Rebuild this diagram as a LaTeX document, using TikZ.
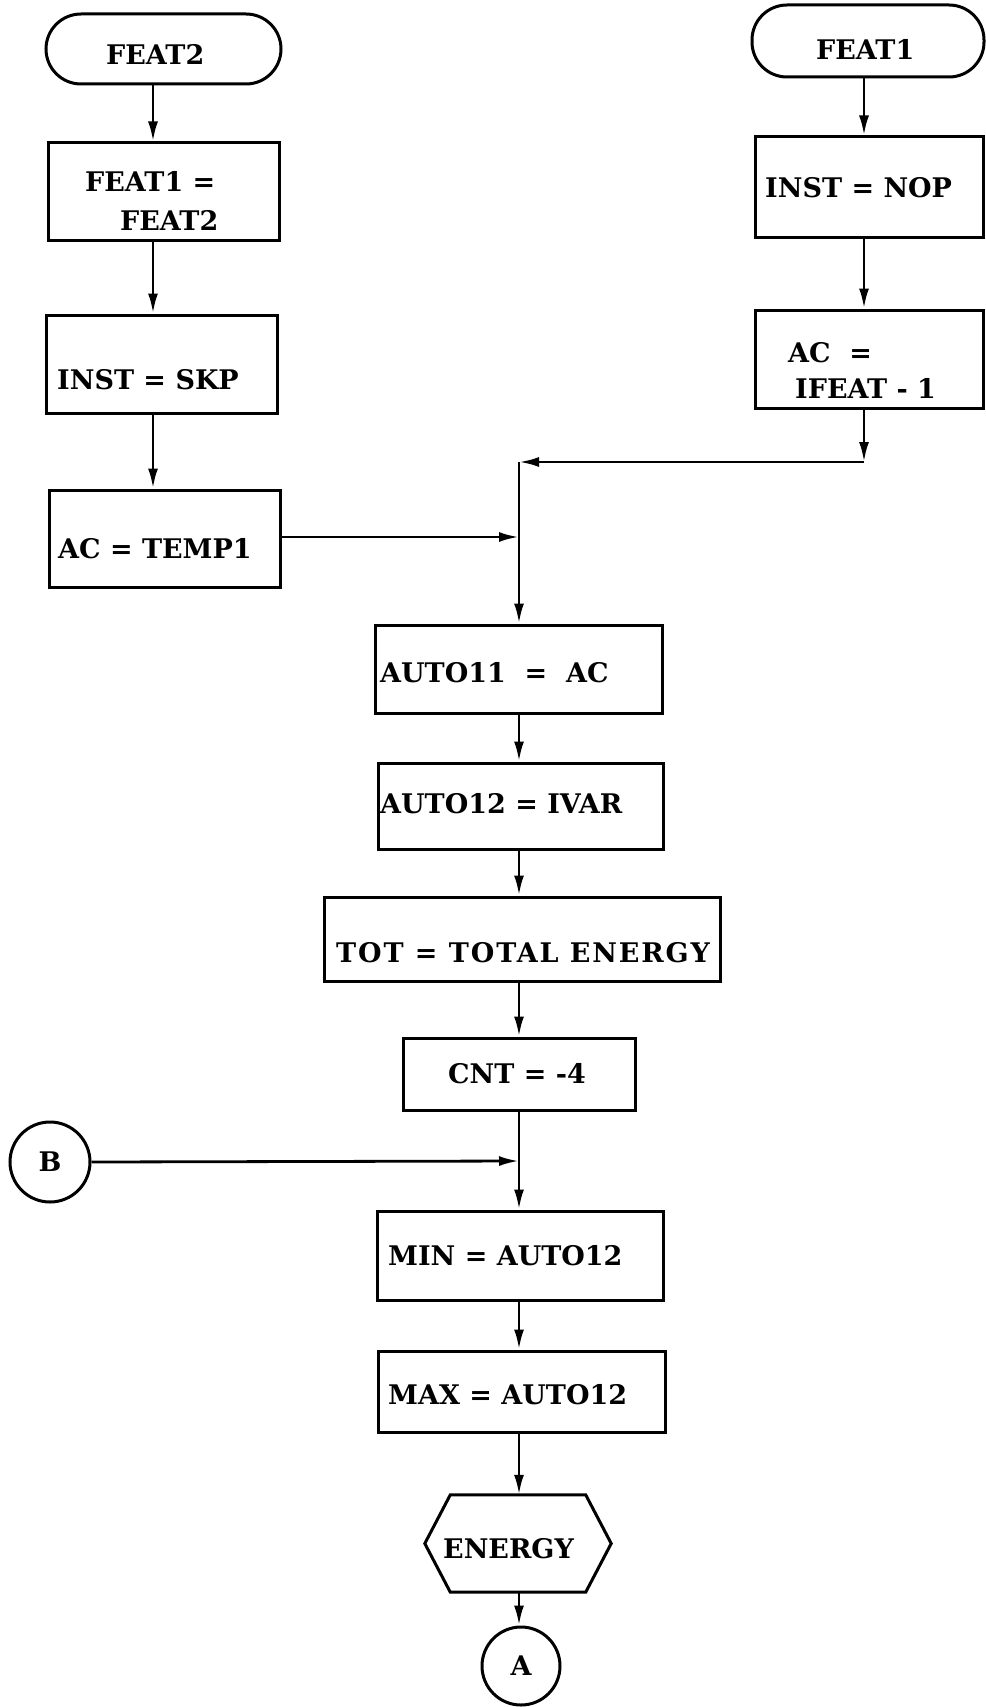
\documentclass[tikz,border=0pt]{standalone}
\usepackage{fontspec}
\setmainfont{DejaVu Serif}
\usetikzlibrary{arrows.meta}
\begin{document}
\begin{tikzpicture}[x=1pt,y=-1pt,
  ln/.style={line width=2.8pt},
  arr/.style={ln,-{Latex[length=20pt,width=10pt]}},
  box/.style={draw,line width=3pt,inner sep=0pt},
  term/.style={draw,line width=3pt,inner sep=0pt,rounded corners=35pt},
  conn/.style={draw,circle,line width=3pt,inner sep=0pt,font=\bfseries\fontsize{27}{32}\selectfont},
  txt/.style={anchor=base west,inner sep=0pt,font=\bfseries\fontsize{27}{32}\selectfont}]
\useasboundingbox (0,0) rectangle (985,1707);
\fill[white] (0,0) rectangle (985,1707);
% helper x positions
\coordinate (lx) at (153,0);
\coordinate (rx) at (864,0);
\coordinate (mx) at (519,0);
% left column
\node[term,minimum width=235pt,minimum height=70pt] (ft2) at (163.5,49) {};
\node[txt] (ft2t) at (106,65) {FEAT2};
\node[box,minimum width=231pt,minimum height=97pt] (b1) at (163.5,191.5) {};
\node[txt] (b1ta) at (85,192) {FEAT1 =};
\node[txt] (b1tb) at (120,230) {FEAT2};
\node[box,minimum width=231pt,minimum height=98pt] (b2) at (161.5,364) {};
\node[txt] (b2t) at (57,389) {INST = SKP};
\node[box,minimum width=231pt,minimum height=97pt] (b3) at (164.5,538.5) {};
\node[txt] (b3t) at (58,558) {AC = TEMP1};
% right column
\node[term,minimum width=232pt,minimum height=72pt] (ft1) at (868,41) {};
\node[txt] (ft1t) at (816,60) {FEAT1};
\node[box,minimum width=228pt,minimum height=100pt] (r1) at (869,187) {};
\node[txt] (r1t) at (765,197) {INST = NOP};
\node[box,minimum width=228pt,minimum height=98pt] (r2) at (869,359) {};
\node[txt] (r2ta) at (788,362) {AC \ =};
\node[txt] (r2tb) at (795,398) {IFEAT - 1};
% middle column
\node[box,minimum width=287pt,minimum height=88pt] (m1) at (518.5,669) {};
\node[txt] (m1t) at (380,682) {AUTO11 \ = \ AC};
\node[box,minimum width=285pt,minimum height=86pt] (m2) at (520.5,806) {};
\node[txt] (m2t) at (380,813) {AUTO12 = IVAR};
\node[box,minimum width=396pt,minimum height=84pt] (m3) at (522,939) {};
\node[txt] (m3t) at (336,962) {\addfontfeature{LetterSpace=7}TOT = TOTAL ENERGY};
\node[box,minimum width=232pt,minimum height=72pt] (m4) at (519,1074) {};
\node[txt] (m4t) at (448,1083) {CNT = -4};
\node[conn,minimum size=80pt] (B) at (50,1162) {B};
\node[box,minimum width=286pt,minimum height=89pt] (m5) at (520,1255.5) {};
\node[txt] (m5t) at (388,1265) {MIN = AUTO12};
\node[box,minimum width=287pt,minimum height=81pt] (m6) at (521.5,1391.5) {};
\node[txt] (m6t) at (388,1404) {MAX = AUTO12};
\node[inner sep=0pt,minimum width=186pt,minimum height=97pt] (hex) at (518,1543.5) {};
\node[txt] (hext) at (443,1558) {ENERGY};
\draw[line width=3pt,line join=miter] (hex.west) -- ([xshift=25.5pt]hex.north west) -- ([xshift=-25.5pt]hex.north east) -- (hex.east) -- ([xshift=-25.5pt]hex.south east) -- ([xshift=25.5pt]hex.south west) -- cycle;
\node[conn,minimum size=78pt] (A) at (521,1666) {A};
% junctions
\coordinate (c1) at (864,462);
\coordinate (j1) at (519,462);
\coordinate (j2) at (519,537);
\coordinate (j3) at (519,1161);
% connectors left
\draw[arr] (ft2.south -| lx) -- (b1.north -| lx);
\draw[arr] (b1.south -| lx) -- (b2.north -| lx);
\draw[arr] (b2.south -| lx) -- (b3.north -| lx);
\draw[arr] (b3.east |- j2) -- (j2);
% connectors right
\draw[arr] (ft1.south -| rx) -- (r1.north -| rx);
\draw[arr] (r1.south -| rx) -- (r2.north -| rx);
\draw[arr] (r2.south -| rx) -- (c1);
\draw[arr] (c1) -- (j1);
% main column
\draw[arr] (j1) -- (m1.north -| mx);
\draw[arr] (m1.south -| mx) -- (m2.north -| mx);
\draw[arr] (m2.south -| mx) -- (m3.north -| mx);
\draw[arr] (m3.south -| mx) -- (m4.north -| mx);
\draw[ln] (m4.south -| mx) -- (j3);
\draw[arr] (B.east) -- (j3);
\draw[arr] (j3) -- (m5.north -| mx);
\draw[arr] (m5.south -| mx) -- (m6.north -| mx);
\draw[arr] (m6.south -| mx) -- (hex.north -| mx);
\draw[arr] (hex.south -| mx) -- (A.north -| mx);
\end{tikzpicture}
\end{document}
